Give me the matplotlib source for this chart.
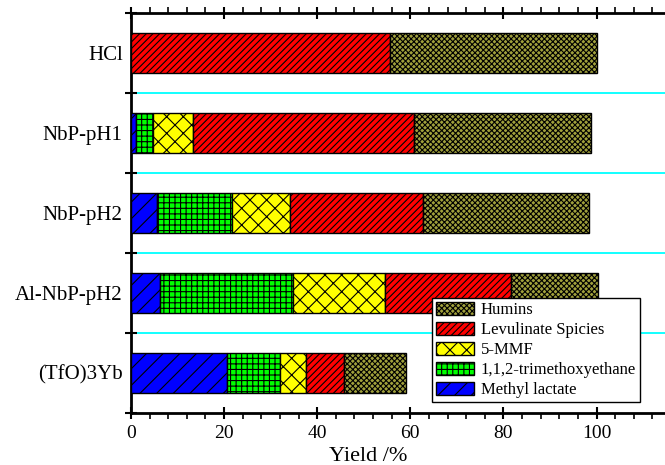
import numpy as np
import matplotlib.pyplot as plt
from matplotlib.ticker import MultipleLocator, FixedLocator

plt.rcParams['font.family'] = ['Liberation Serif', 'DejaVu Serif']
plt.rcParams['hatch.linewidth'] = 0.8

# Data (yield %)
catalysts = ['HCl', 'NbP-pH1', 'NbP-pH2', 'Al-NbP-pH2', '(TfO)3Yb']
methyl_lactate = [0.0, 1.0, 5.5, 6.2, 20.7]
trimethoxyethane = [0.0, 3.7, 16.3, 28.6, 11.4]
mmf = [0.0, 8.7, 12.4, 19.8, 5.5]
levulinate = [55.7, 47.3, 28.5, 27.0, 8.1]
humins = [44.3, 38.1, 35.7, 18.8, 13.4]

series = [
    ('Methyl lactate', methyl_lactate, '#0000ff', '//'),
    ('1,1,2-trimethoxyethane', trimethoxyethane, '#00ff00', '+++'),
    ('5-MMF', mmf, '#ffff00', 'xx'),
    ('Levulinate Spicies', levulinate, '#ff0000', '/////'),
    ('Humins', humins, '#a0a03c', 'xxxxxx'),
]

fig = plt.figure(figsize=(6.65, 4.65), dpi=100)
ax = fig.add_axes([131 / 665, 1 - 412.7 / 465, 1 - 131 / 665, 400 / 465])

y = np.arange(len(catalysts))
left = np.zeros(len(catalysts))
handles = []
for name, vals, color, hatch in series:
    b = ax.barh(y, vals, height=0.5, left=left, color=color, edgecolor='black',
                linewidth=1.0, hatch=hatch, label=name, zorder=3)
    handles.append(b)
    left += np.array(vals)

# cyan separators between groups
for yy in np.arange(0.5, len(catalysts) - 1, 1.0):
    ax.axhline(yy, color='#00ffff', linewidth=1.3, zorder=1)

ax.set_xlim(0, 114.7)
ax.set_ylim(len(catalysts) - 0.5, -0.5)

ax.set_yticks(y)
ax.set_yticklabels(catalysts, fontsize=15)
ax.tick_params(axis='y', which='major', length=0, pad=6)
ax.yaxis.set_minor_locator(FixedLocator(np.arange(-0.5, len(catalysts), 1.0)))
ax.tick_params(axis='y', which='minor', direction='inout', length=8, width=1.5)

ax.xaxis.set_major_locator(MultipleLocator(20))
ax.xaxis.set_minor_locator(MultipleLocator(4))
ax.tick_params(axis='x', which='major', direction='inout', length=8, width=1.5,
               labelsize=14, pad=5, top=True)
ax.tick_params(axis='x', which='minor', direction='out', length=4, width=1.2, top=True)

for s in ['left', 'bottom', 'top']:
    ax.spines[s].set_linewidth(2)
ax.spines['right'].set_visible(False)

ax.set_xlabel('Yield /%', fontsize=16)
ax.xaxis.set_label_coords((368 - 131) / (665 - 131), -0.085)

leg = ax.legend(handles[::-1], [s[0] for s in series][::-1],
                loc='upper left', bbox_to_anchor=(432 / 665, 1 - 298 / 465),
                bbox_transform=fig.transFigure, fontsize=12, frameon=True,
                fancybox=False, edgecolor='black', framealpha=1,
                handlelength=2.3, handleheight=0.85, labelspacing=0.22,
                borderpad=0.22, handletextpad=0.4, borderaxespad=0)
leg.get_frame().set_linewidth(1.0)
leg.set_zorder(5)

fig.savefig('out.png', dpi=100)
